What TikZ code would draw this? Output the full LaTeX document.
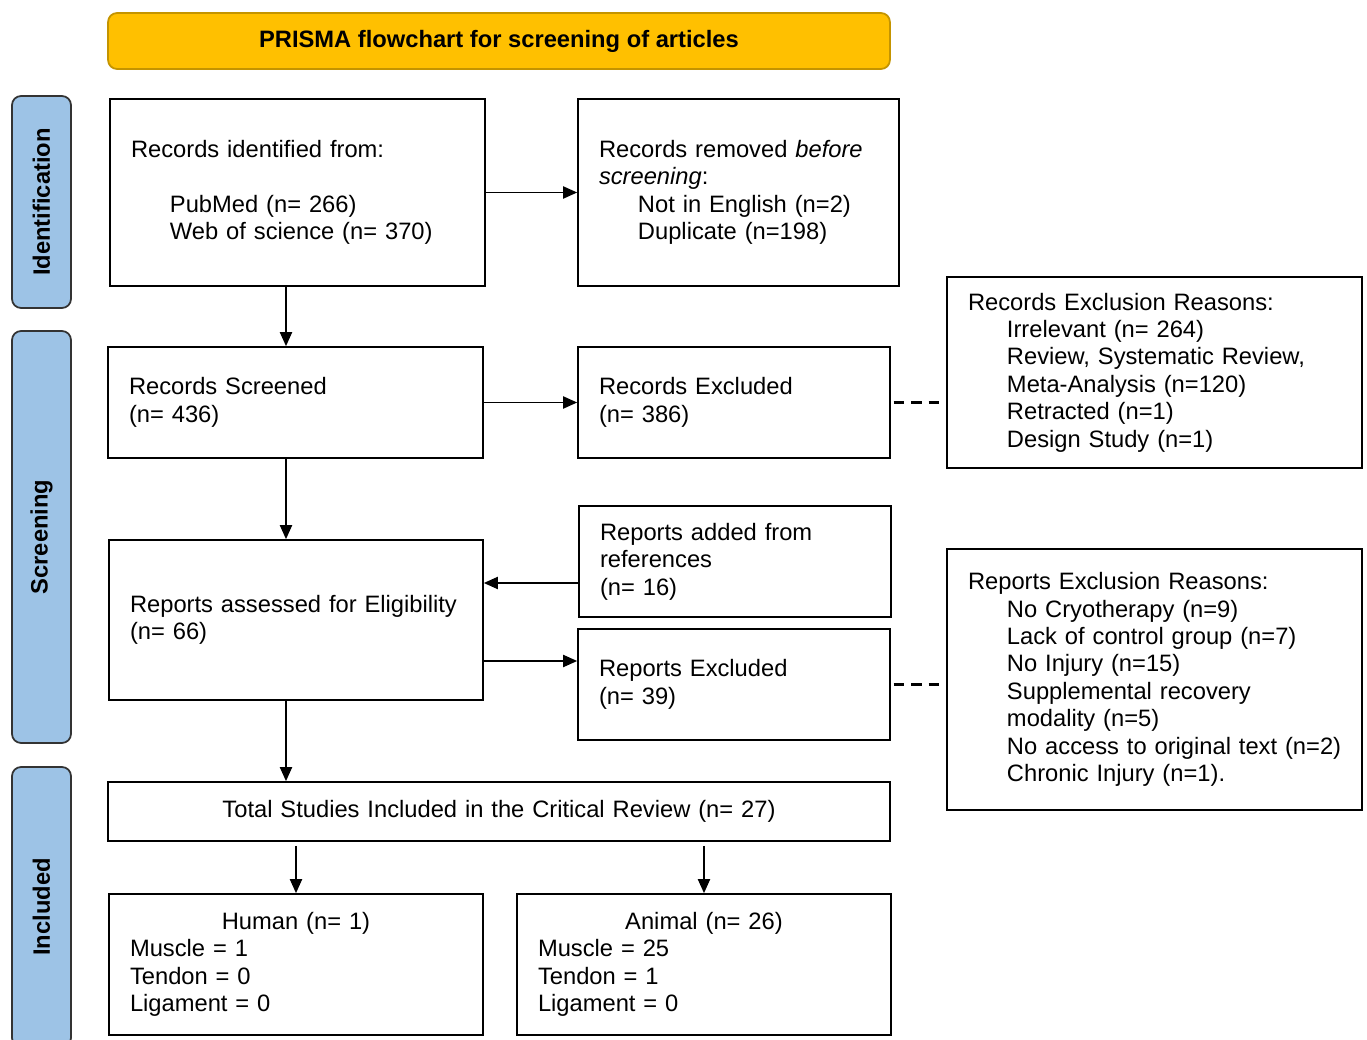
\documentclass[tikz,border=0pt]{standalone}
\usepackage{fontspec}
\setmainfont{Liberation Sans}
\usepackage{tikz}
\usetikzlibrary{arrows.meta}
\definecolor{titlegold}{HTML}{FFC000}
\definecolor{titleedge}{HTML}{C49400}
\definecolor{stageblue}{HTML}{9DC3E6}
\newcommand{\subentry}{\hspace*{0.78cm}}

\begin{document}
\begin{tikzpicture}[x=0.02cm,y=-0.02cm,>={Triangle[length=8pt,width=7pt]},
  font=\fontsize{13.5}{15.6}\selectfont,
  box/.style 2 args={draw,line width=1pt,minimum width=#1*0.02cm,minimum height=#2*0.02cm,text width=(#1-42)*0.02cm,inner xsep=0.42cm,inner ysep=0pt,align=left},
  stage/.style={draw=black!80,line width=1pt,fill=stageblue,rounded corners=0.18cm,rotate=90,minimum height=1.18cm,font=\fontsize{13.5}{15.6}\selectfont\bfseries},
  link/.style={->,line width=0.75pt},
  aside/.style={line width=1.3pt,dash pattern=on 6pt off 4pt}]

\useasboundingbox (0,0) rectangle (1367,1040);
\clip (0,0) rectangle (1367,1040);

\node[draw=titleedge,line width=1pt,fill=titlegold,rounded corners=0.18cm,minimum width=15.64cm,minimum height=1.12cm,font=\fontsize{13.5}{15.6}\selectfont\bfseries] (title) at (499,41) {PRISMA flowchart for screening of articles};

% stages on the left
\node[stage,minimum width=4.24cm] (identification) at (41.5,202) {Identification};
\node[stage,minimum width=8.24cm] (screening) at (41.5,537) {Screening};
\node[stage,minimum width=5.6cm] (included) at (41.5,907) {Included};

\node[box={375}{187}] (records) at (297.5,192.5) {Records identified from:\\[15.6pt]\subentry PubMed (n= 266)\\\subentry Web of science (n= 370)};
\node[box={321}{187}] (removed) at (738.5,192.5) {Records removed \textit{before}\\\textit{screening}:\\\subentry Not in English (n=2)\\\subentry Duplicate (n=198)};
\node[box={375}{111}] (screened) at (295.5,402.5) {Records Screened\\(n= 436)};
\node[box={312}{111}] (recexcluded) at (734,402.5) {Records Excluded\\(n= 386)};
\node[box={415}{191}] (recreasons) at (1154.5,372.5) {Records Exclusion Reasons:\\\subentry Irrelevant (n= 264)\\\subentry Review, Systematic Review,\\\subentry Meta-Analysis (n=120)\\\subentry Retracted (n=1)\\\subentry Design Study (n=1)};
\node[box={312}{111}] (added) at (735,561.5) {Reports added from\\references\\(n= 16)};
\node[box={374}{160}] (assessed) at (296,620) {\mbox{Reports assessed for Eligibility}\\(n= 66)};
\node[box={312}{111}] (repexcluded) at (734,684.5) {Reports Excluded\\(n= 39)};
\node[box={415}{261}] (repreasons) at (1154.5,679.5) {Reports Exclusion Reasons:\\\subentry No Cryotherapy (n=9)\\\subentry Lack of control group (n=7)\\\subentry No Injury (n=15)\\\subentry Supplemental recovery\\\subentry modality (n=5)\\\subentry \mbox{No access to original text (n=2)}\\\subentry Chronic Injury (n=1).};
\node[box={782}{59},align=center] (total) at (499,811.5) {Total Studies Included in the Critical Review (n= 27)};
\node[box={374}{141}] (human) at (296,964.5) {\makebox[\linewidth]{Human (n= 1)}\\Muscle = 1\\Tendon = 0\\Ligament = 0};
\node[box={374}{141}] (animal) at (704,964.5) {\makebox[\linewidth]{Animal (n= 26)}\\Muscle = 25\\Tendon = 1\\Ligament = 0};

\coordinate (mainline) at (286,0);
\coordinate (addline) at (0,583);
\coordinate (exclline) at (0,661);

\draw[link] (records) -- (removed);
\draw[link] (records.south -| mainline) -- (screened.north -| mainline);
\draw[link] (screened) -- (recexcluded);
\draw[link] (screened.south -| mainline) -- (assessed.north -| mainline);
\draw[link] (added.west |- addline) -- (assessed.east |- addline);
\draw[link] (assessed.east |- exclline) -- (repexcluded.west |- exclline);
\draw[link] (assessed.south -| mainline) -- (total.north -| mainline);
\draw[link,shorten <=2.3pt] (total.south -| human.north) -- (human.north);
\draw[link,shorten <=2.3pt] (total.south -| animal.north) -- (animal.north);
\draw[aside,shorten <=1.5pt] (recexcluded.east) -- (recexcluded.east -| recreasons.west);
\draw[aside,shorten <=1.5pt] (repexcluded.east) -- (repexcluded.east -| repreasons.west);

\end{tikzpicture}
\end{document}
